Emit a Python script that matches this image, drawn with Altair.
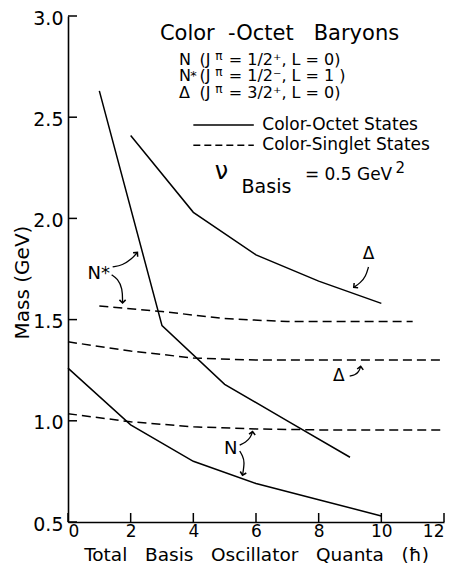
import altair as alt
import pandas as pd

# ---- curve data ----
n_oct_x = [0, 2, 4, 6, 8, 10]
n_oct_y = [1.26, 0.98, 0.80, 0.69, 0.61, 0.53]
nstar_oct_x = [1, 3, 5, 7, 9]
nstar_oct_y = [2.63, 1.47, 1.18, 1.00, 0.82]
delta_oct_x = [2, 4, 6, 8, 10]
delta_oct_y = [2.41, 2.03, 1.82, 1.69, 1.58]

n_sing_x = [0, 2, 4, 6, 8, 10, 12]
n_sing_y = [1.035, 0.995, 0.97, 0.96, 0.955, 0.955, 0.955]
nstar_sing_x = [1, 3, 5, 7, 9, 11]
nstar_sing_y = [1.567, 1.54, 1.505, 1.49, 1.49, 1.49]
delta_sing_x = [0, 2, 4, 6, 8, 10, 12]
delta_sing_y = [1.39, 1.345, 1.31, 1.30, 1.30, 1.30, 1.30]

x_ticks = [0, 2, 4, 6, 8, 10, 12]
y_ticks = [0.5, 1.0, 1.5, 2.0, 2.5, 3.0]

NB = "\u00a0"

# ---- annotation data (data coordinates) ----
# left-aligned texts: x, y(baseline), text, font size
txt_left_x = [3.546, 3.546, 3.90, 3.546, 4.20, 4.20, 4.20, 5.13, 5.13, 5.13,
              4.686, 5.54, 7.56, 10.45]
txt_left_y = [2.760, 2.678, 2.683, 2.596, 2.760, 2.678, 2.596, 2.760, 2.678, 2.596,
              2.197, 2.125, 2.192, 2.226]
txt_left_t = ["N", "N", "*", "Δ", "(J", "(J", "(J",
              "= 1/2⁺, L = 0)", "= 1/2⁻, L = 1 )", "= 3/2⁺, L = 0)",
              "ν", "Basis", "= 0.5 GeV", "2"]
txt_left_s = [16, 16, 13, 16, 16, 16, 16, 16, 16, 16, 24, 19, 17, 15]

# legend texts (left aligned, middle baseline)
leg_txt_x = [6.2, 6.2]
leg_txt_y = [2.462, 2.361]
leg_txt_t = ["Color-Octet States", "Color-Singlet States"]

# superscript pi
pi_x = [4.70, 4.70, 4.70]
pi_y = [2.784, 2.702, 2.620]

# centered labels
txt_c_x = [6.75, 0.98, 9.59, 8.64, 5.19]
txt_c_y = [2.880, 1.702, 1.798, 1.197, 0.837]
txt_c_t = ["Color" + NB + NB + "-Octet" + NB * 3 + "Baryons", "N*", "Δ", "Δ", "N"]
txt_c_s = [21, 18, 17, 17, 18]

# arrows
arrows = {
    1: ([1.425, 1.741, 2.026, 2.216], [1.760, 1.769, 1.798, 1.832]),
    2: ([1.393, 1.583, 1.741, 1.741], [1.721, 1.702, 1.654, 1.582]),
    3: ([9.59, 9.50, 9.34, 9.12], [1.760, 1.712, 1.683, 1.659]),
    4: ([8.99, 9.15, 9.28, 9.34], [1.221, 1.226, 1.240, 1.269]),
    5: ([5.48, 5.67, 5.83, 5.89], [0.880, 0.894, 0.918, 0.947]),
    6: ([5.48, 5.57, 5.64, 5.57], [0.851, 0.827, 0.798, 0.731]),
}
head_angle = {1: 42, 2: 180, 3: 230, 4: 8, 5: 8, 6: 194}

# legend samples
leg_x = [4.0, 4.0]
leg_x2 = [5.93, 5.93]
leg_y = [2.462, 2.361]

# ---- build tables ----
def series(name, xs, ys):
    return [{"s": name, "x": a, "y": b} for a, b in zip(xs, ys)]

oct_df = pd.DataFrame(series("N", n_oct_x, n_oct_y)
                      + series("N*", nstar_oct_x, nstar_oct_y)
                      + series("D", delta_oct_x, delta_oct_y))
sing_df = pd.DataFrame(series("N", n_sing_x, n_sing_y)
                       + series("N*", nstar_sing_x, nstar_sing_y)
                       + series("D", delta_sing_x, delta_sing_y))

left_df = pd.DataFrame({"x": txt_left_x, "y": txt_left_y, "t": txt_left_t, "s": txt_left_s})
legt_df = pd.DataFrame({"x": leg_txt_x, "y": leg_txt_y, "t": leg_txt_t})
pi_df = pd.DataFrame({"x": pi_x, "y": pi_y, "t": ["π"] * 3})
c_df = pd.DataFrame({"x": txt_c_x, "y": txt_c_y, "t": txt_c_t, "s": txt_c_s})

arr_rows = []
head_rows = []
for k, (xs, ys) in arrows.items():
    for i, (a, b) in enumerate(zip(xs, ys)):
        arr_rows.append({"id": k, "o": i, "x": a, "y": b})
    head_rows.append({"x": xs[-1], "y": ys[-1], "a": head_angle[k]})
arr_df = pd.DataFrame(arr_rows)
head_df = pd.DataFrame(head_rows)

leg_df = pd.DataFrame({"x": leg_x, "x2": leg_x2, "y": leg_y, "d": ["solid", "dash"]})
xt_df = pd.DataFrame({"x": x_ticks})
yt_df = pd.DataFrame({"y": y_ticks})

FONT = "DejaVu Sans"
W, H = 376, 506

xscale = alt.Scale(domain=[0, 12], nice=False, zero=False)
yscale = alt.Scale(domain=[0.5, 3.0], nice=False, zero=False)
xtitle = ("Total" + NB * 3 + "Basis" + NB * 3 + "Oscillator" + NB * 3
          + "Quanta" + NB * 3 + "(ħ)")
xaxis = alt.Axis(values=x_ticks, format="d", title=xtitle,
                 titleX=188, titleY=38, titleBaseline="alphabetic", titleFontSize=18.5,
                 titleFontWeight="normal", labelFontSize=17, labelPadding=1,
                 ticks=False, grid=False, domainColor="black", domainWidth=1.6,
                 labelColor="black", titleColor="black", labelFont=FONT, titleFont=FONT)
yaxis = alt.Axis(values=y_ticks, format=".1f", title="Mass (GeV)",
                 titleX=-46, titleY=266, titleAngle=270, titleBaseline="middle",
                 titleAlign="center", titleFontSize=20, titleFontWeight="normal",
                 labelFontSize=19, labelPadding=5, labelOffset=2, ticks=False, grid=False,
                 domainColor="black", domainWidth=1.6, labelColor="black",
                 titleColor="black", labelFont=FONT, titleFont=FONT)


def X(f="x"):
    return alt.X(f, type="quantitative", scale=xscale, axis=xaxis)


def Y(f="y"):
    return alt.Y(f, type="quantitative", scale=yscale, axis=yaxis)


octet = alt.Chart(oct_df).mark_line(color="black", strokeWidth=1.5).encode(
    x=X(), y=Y(), detail="s:N", order="x:Q")
singlet = alt.Chart(sing_df).mark_line(color="black", strokeWidth=1.5,
                                       strokeDash=[9, 5]).encode(
    x=X(), y=Y(), detail="s:N", order="x:Q")

xticks = alt.Chart(xt_df).mark_rule(color="black", strokeWidth=1.5).encode(
    x=X(), y=alt.value(H), y2=alt.value(H - 9))
yticks = alt.Chart(yt_df).mark_rule(color="black", strokeWidth=1.5).encode(
    y=Y(), x=alt.value(0), x2=alt.value(9))

leg_solid = alt.Chart(leg_df[leg_df.d == "solid"]).mark_rule(
    color="black", strokeWidth=1.5).encode(x=X(), x2="x2", y=Y())
leg_dash = alt.Chart(leg_df[leg_df.d == "dash"]).mark_rule(
    color="black", strokeWidth=1.5, strokeDash=[7, 4]).encode(x=X(), x2="x2", y=Y())

left_txt = alt.Chart(left_df).mark_text(
    align="left", baseline="alphabetic", font=FONT, color="black").encode(
    x=X(), y=Y(), text="t:N", size=alt.Size("s:Q", scale=None))
leg_txt = alt.Chart(legt_df).mark_text(
    align="left", baseline="middle", font=FONT, color="black", fontSize=17).encode(
    x=X(), y=Y(), text="t:N")
pi_txt = alt.Chart(pi_df).mark_text(
    align="left", baseline="alphabetic", font=FONT, color="black", fontSize=12).encode(
    x=X(), y=Y(), text="t:N")
center_txt = alt.Chart(c_df).mark_text(
    align="center", baseline="alphabetic", font=FONT, color="black").encode(
    x=X(), y=Y(), text="t:N", size=alt.Size("s:Q", scale=None))

arrow_lines = alt.Chart(arr_df).mark_line(color="black", strokeWidth=1.3,
                                          interpolate="basis").encode(
    x=X(), y=Y(), detail="id:N", order="o:Q")
arrow_heads = alt.Chart(head_df).mark_point(
    shape="M -0.8 0.8 L 0 0 L 0.8 0.8", filled=False, color="black",
    strokeWidth=1.5, size=60, opacity=1).encode(
    x=X(), y=Y(), angle=alt.Angle("a:Q", scale=None))

chart = alt.layer(
    octet, singlet, xticks, yticks, leg_solid, leg_dash,
    left_txt, leg_txt, pi_txt, center_txt, arrow_lines, arrow_heads
).properties(
    width=W, height=H,
    autosize=alt.AutoSizeParams(type="none"),
    padding={"left": 60, "top": 8, "right": 1, "bottom": 44},
    background="white",
).configure_view(stroke="transparent")

chart.save("out.html", embed_options={"renderer": "svg", "actions": False})
